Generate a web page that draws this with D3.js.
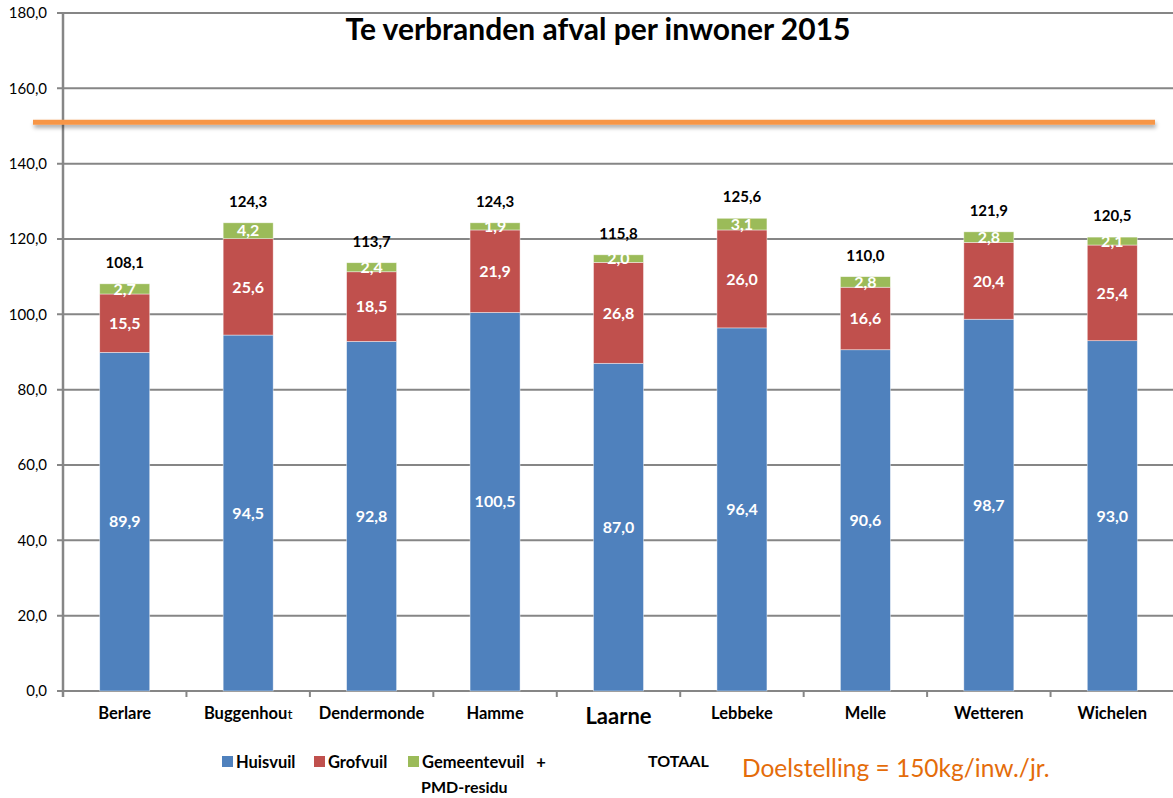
<!DOCTYPE html>
<html>
<head>
<meta charset="utf-8">
<script src="https://cdn.jsdelivr.net/npm/d3@7"></script>
<style>
  body { margin: 0; background: #fff; }
  svg { display: block; font-family: Lato, "Open Sans", sans-serif; }
</style>
</head>
<body>
<div id="chart"></div>
<script>
// data ---------------------------------------------------------------
const gemeenten = ['Berlare', 'Buggenhout', 'Dendermonde', 'Hamme', 'Laarne', 'Lebbeke', 'Melle', 'Wetteren', 'Wichelen'];
const huisvuil = [89.9, 94.5, 92.8, 100.5, 87.0, 96.4, 90.6, 98.7, 93.0];
const grofvuil = [15.5, 25.6, 18.5, 21.9, 26.8, 26.0, 16.6, 20.4, 25.4];
const gemeentevuil = [2.7, 4.2, 2.4, 1.9, 2.0, 3.1, 2.8, 2.8, 2.1];
const totaal = [108.1, 124.3, 113.7, 124.3, 115.8, 125.6, 110.0, 121.9, 120.5];
const doelstelling = 151;
const yTicks = [0, 20, 40, 60, 80, 100, 120, 140, 160, 180];

const seriesNames = ['Huisvuil', 'Grofvuil', 'Gemeentevuil'];
const colors = ['#4F81BD', '#C0504D', '#9BBB59'];

// afmetingen ---------------------------------------------------------
const width = 1173, height = 798;
const margin = {left: 63, right: -1, top: 13, bottom: 107};

const svg = d3.select('#chart').append('svg')
  .attr('width', width)
  .attr('height', height);

const x = d3.scaleBand()
  .domain(gemeenten)
  .range([margin.left, width - margin.right])
  .paddingInner(0.595)
  .paddingOuter(0.2975);

const y = d3.scaleLinear()
  .domain([0, 180])
  .range([height - margin.bottom, margin.top]);

const fmt = v => v.toFixed(1).replace('.', ',');

// rasterlijnen ------------------------------------------------------
svg.append('g')
  .selectAll('line')
  .data(yTicks)
  .enter()
  .append('line')
  .attr('x1', margin.left - 6)
  .attr('x2', width)
  .attr('y1', d => y(d))
  .attr('y2', d => y(d))
  .attr('stroke', '#868686')
  .attr('stroke-width', 2);

svg.append('g')
  .selectAll('text')
  .data(yTicks)
  .enter()
  .append('text')
  .attr('x', 47)
  .attr('y', d => y(d))
  .attr('dy', '0.35em')
  .attr('text-anchor', 'end')
  .attr('font-size', 15)
  .attr('fill', '#000')
  .text(fmt);

// gestapelde balken -------------------------------------------------
const rows = gemeenten.map((g, i) => ({
  name: g, Huisvuil: huisvuil[i], Grofvuil: grofvuil[i], Gemeentevuil: gemeentevuil[i]
}));
const stacked = d3.stack().keys(seriesNames)(rows);

const layers = svg.append('g')
  .selectAll('g')
  .data(stacked)
  .enter()
  .append('g')
  .attr('fill', (d, i) => colors[i]);

layers.selectAll('rect')
  .data(d => d)
  .enter()
  .append('rect')
  .attr('x', d => x(d.data.name))
  .attr('width', x.bandwidth())
  .attr('y', d => y(d[1]))
  .attr('height', d => y(d[0]) - y(d[1]))
  .attr('stroke', 'rgba(255,255,255,0.6)')
  .attr('stroke-width', 0.7);

layers.selectAll('text')
  .data(d => d)
  .enter()
  .append('text')
  .attr('x', d => x(d.data.name) + x.bandwidth() / 2)
  .attr('y', d => (y(d[0]) + y(d[1])) / 2)
  .attr('dy', '0.36em')
  .attr('text-anchor', 'middle')
  .attr('font-size', 16)
  .attr('font-weight', 'bold')
  .attr('fill', '#fff')
  .text(d => fmt(d[1] - d[0]));

// totalen
svg.append('g')
  .selectAll('text')
  .data(gemeenten)
  .enter()
  .append('text')
  .attr('x', d => x(d) + x.bandwidth() / 2)
  .attr('y', (d, i) => y(totaal[i]) - 16)
  .attr('text-anchor', 'middle')
  .attr('font-size', 15)
  .attr('font-weight', 'bold')
  .attr('fill', '#000')
  .text((d, i) => fmt(totaal[i]));

// assen -------------------------------------------------------------
svg.append('line')
  .attr('x1', margin.left).attr('x2', margin.left)
  .attr('y1', y(180)).attr('y2', y(0) + 6)
  .attr('stroke', '#868686').attr('stroke-width', 2.5);

const step = x.step();
svg.append('g')
  .selectAll('line')
  .data(d3.range(gemeenten.length + 1))
  .enter()
  .append('line')
  .attr('x1', i => margin.left + i * step)
  .attr('x2', i => margin.left + i * step)
  .attr('y1', y(0))
  .attr('y2', y(0) + 6)
  .attr('stroke', '#868686')
  .attr('stroke-width', 2);

const xLabels = svg.append('g')
  .selectAll('text')
  .data(gemeenten)
  .enter()
  .append('text')
  .attr('x', d => x(d) + x.bandwidth() / 2)
  .attr('y', d => d === 'Laarne' ? 724 : 719)
  .attr('text-anchor', 'middle')
  .attr('font-size', d => d === 'Laarne' ? 22 : 16.5)
  .attr('font-weight', 'bold')
  .attr('fill', '#000');

xLabels.each(function (d) {
  const t = d3.select(this);
  if (d === 'Buggenhout') {
    t.append('tspan').text('Buggenhou');
    t.append('tspan').attr('font-weight', 'normal').attr('font-size', 14).text('t');
  } else {
    t.text(d);
  }
});

// doelstelling ------------------------------------------------------
const defs = svg.append('defs');
const filter = defs.append('filter').attr('id', 'shadow')
  .attr('filterUnits', 'userSpaceOnUse')
  .attr('x', 0).attr('y', 100).attr('width', width).attr('height', 50);
filter.append('feDropShadow')
  .attr('dx', 1).attr('dy', 3).attr('stdDeviation', 2)
  .attr('flood-color', '#000').attr('flood-opacity', 0.35);

svg.append('line')
  .attr('x1', 33)
  .attr('x2', 1155)
  .attr('y1', y(doelstelling))
  .attr('y2', y(doelstelling))
  .attr('stroke', '#F79646')
  .attr('stroke-width', 5)
  .attr('filter', 'url(#shadow)');

// titel -------------------------------------------------------------
svg.append('text')
  .attr('x', 598)
  .attr('y', 40)
  .attr('text-anchor', 'middle')
  .attr('font-size', 30)
  .attr('font-weight', 'bold')
  .attr('fill', '#000')
  .text('Te verbranden afval per inwoner 2015');

// legenda -----------------------------------------------------------
const legendItems = [
  {label: 'Huisvuil', x: 222},
  {label: 'Grofvuil', x: 314},
  {label: 'Gemeentevuil   +', x: 408}
];
const legend = svg.append('g')
  .selectAll('g')
  .data(legendItems)
  .enter()
  .append('g')
  .attr('transform', d => 'translate(' + d.x + ',756)');
legend.append('rect')
  .attr('width', 11).attr('height', 11)
  .attr('fill', (d, i) => colors[i]);
legend.append('text')
  .attr('x', 14).attr('y', 12)
  .attr('font-size', 16.5)
  .attr('font-weight', 'bold')
  .attr('fill', '#000')
  .attr('xml:space', 'preserve')
  .style('white-space', 'pre')
  .text(d => d.label);

svg.append('text')
  .attr('x', 421).attr('y', 793)
  .attr('font-size', 16).attr('font-weight', 'bold').attr('fill', '#000')
  .text('PMD-residu');

svg.append('text')
  .attr('x', 648).attr('y', 767)
  .attr('font-size', 16).attr('font-weight', 'bold').attr('fill', '#000')
  .text('TOTAAL');

svg.append('text')
  .attr('x', 742).attr('y', 777)
  .attr('font-size', 24.5)
  .attr('fill', '#E46C0A')
  .text('Doelstelling = 150kg/inw./jr.');
</script>
</body>
</html>
